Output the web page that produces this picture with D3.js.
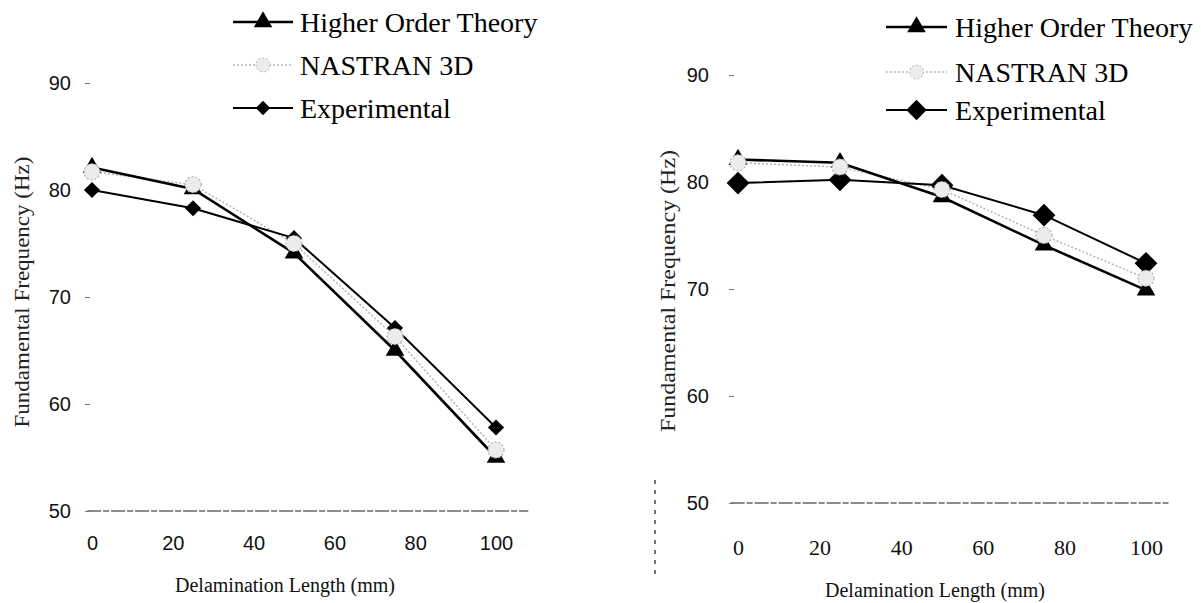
<!DOCTYPE html>
<html><head><meta charset="utf-8">
<script src="https://cdn.jsdelivr.net/npm/d3@7"></script>
<style>
body{margin:0;background:#fff;}
svg{display:block;}
.serif{font-family:"Liberation Serif","Times New Roman",serif;}
.sans{font-family:"Liberation Sans",Arial,sans-serif;}
</style></head>
<body>
<svg id="chart" width="1201" height="603"></svg>
<script>
// ---- data ----
const delaminationLength = [0, 25, 50, 75, 100];
const xTickValues = [0, 20, 40, 60, 80, 100];
const yTickValues = [50, 60, 70, 80, 90];
const seriesNames = ["Higher Order Theory", "NASTRAN 3D", "Experimental"];

const leftHigherOrder = [82.1, 80.1, 74.1, 65.0, 55.0];
const leftNastran     = [81.7, 80.5, 75.0, 66.3, 55.7];
const leftExperimental= [80.0, 78.3, 75.5, 67.1, 57.8];

const rightHigherOrder = [82.1, 81.8, 78.6, 74.1, 69.9];
const rightNastran     = [81.8, 81.4, 79.3, 75.0, 71.0];
const rightExperimental= [79.9, 80.2, 79.7, 76.9, 72.4];

const xTitle = "Delamination Length (mm)";
const yTitle = "Fundamental Frequency (Hz)";

// ---- layout ----
const svg = d3.select("#chart");

const panels = [
  { hot: leftHigherOrder, nas: leftNastran, exp: leftExperimental,
    xr: [92, 496], yr: [511, 83], axisX: 90, domainExt: [-1.2, 108],
    xTickClass: "sans", xTickSize: 20, xTickY: 543,
    yTickPad: 14, yTitleX: 21, yTitleY: 292, yTitleLen: 271,
    xTitleX: 285, xTitleY: 585,
    legX: 233, legX2: 293, legText: 300, legY: [22, 65, 108], diamond: 130 },
  { hot: rightHigherOrder, nas: rightNastran, exp: rightExperimental,
    xr: [738, 1146], yr: [503, 75], axisX: 734, domainExt: [-1.8, 105.5],
    xTickClass: "serif", xTickSize: 22, xTickY: 547,
    yTickPad: 20, yTitleX: 667, yTitleY: 291, yTitleLen: 282,
    xTitleX: 935, xTitleY: 590,
    legX: 886, legX2: 947, legText: 955, legY: [27, 72, 110], diamond: 260 }
];

const triangle = d3.symbol().type(d3.symbolTriangle).size(150);

panels.forEach(p => {
  const x = d3.scaleLinear().domain([0, 100]).range(p.xr);
  const y = d3.scaleLinear().domain([50, 90]).range(p.yr);
  const g = svg.append("g");

  // x axis (line at 50)
  const xa = g.append("g").attr("transform", `translate(0,${y(50)})`)
    .call(d3.axisBottom(x).tickValues(xTickValues).tickSize(0).tickPadding(0));
  xa.attr("font-family", null);
  xa.select(".domain").attr("d", `M${x(p.domainExt[0])},0H${x(p.domainExt[1])}`)
    .attr("stroke", "#666").attr("stroke-width", 1.6).attr("stroke-dasharray", "14,2,6,2");
  xa.selectAll(".tick text")
    .attr("class", p.xTickClass)
    .attr("y", p.xTickY - y(50)).attr("dy", "0.35em")
    .style("font-size", p.xTickSize + "px").attr("fill", "#111");

  // y axis
  const ya = g.append("g").attr("transform", `translate(${p.axisX},0)`)
    .call(d3.axisLeft(y).tickValues(yTickValues).tickSize(5).tickPadding(p.yTickPad));
  ya.attr("font-family", null);
  ya.select(".domain").remove();
  ya.selectAll(".tick line").attr("stroke", "#777").attr("stroke-width", 1);
  ya.selectAll(".tick text").attr("class", "sans")
    .style("font-size", "20px").attr("fill", "#111");

  // titles
  g.append("text").attr("class", "serif").attr("x", p.xTitleX).attr("y", p.xTitleY).attr("dy", "0.35em")
    .attr("text-anchor", "middle").style("font-size", "20px").attr("fill", "#111").text(xTitle);
  g.append("text").attr("class", "serif")
    .attr("transform", `translate(${p.yTitleX},${p.yTitleY}) rotate(-90)`)
    .attr("dy", "0.35em").attr("text-anchor", "middle").style("font-size", "22px")
    .attr("textLength", p.yTitleLen).attr("lengthAdjust", "spacingAndGlyphs")
    .attr("fill", "#222").text(yTitle);

  const line = d3.line().x((d, i) => x(delaminationLength[i])).y(d => y(d));

  // lines
  g.append("path").datum(p.nas).attr("d", line).attr("fill", "none")
    .attr("stroke", "#b5b5b5").attr("stroke-width", 1.5).attr("stroke-dasharray", "2,2");
  g.append("path").datum(p.exp).attr("d", line).attr("fill", "none")
    .attr("stroke", "#000").attr("stroke-width", 2);
  g.append("path").datum(p.hot).attr("d", line).attr("fill", "none")
    .attr("stroke", "#000").attr("stroke-width", 2.6);

  // markers
  g.selectAll(".tri").data(p.hot).enter().append("path")
    .attr("d", triangle)
    .attr("transform", (d, i) => `translate(${x(delaminationLength[i])},${y(d)})`)
    .attr("fill", "#000");
  g.selectAll(".dia").data(p.exp).enter().append("path")
    .attr("d", d3.symbol().type(d3.symbolSquare).size(p.diamond))
    .attr("transform", (d, i) => `translate(${x(delaminationLength[i])},${y(d)}) rotate(45)`)
    .attr("fill", "#000");
  g.selectAll(".nas").data(p.nas).enter().append("circle")
    .attr("cx", (d, i) => x(delaminationLength[i])).attr("cy", d => y(d)).attr("r", 8)
    .attr("fill", "#ececec").attr("stroke", "#b0b0b0").attr("stroke-width", 1.2)
    .attr("stroke-dasharray", "2,2");

  // legend
  const lg = g.append("g");
  seriesNames.forEach((name, k) => {
    const ly = p.legY[k];
    const mx = (p.legX + p.legX2) / 2;
    lg.append("line").attr("x1", p.legX).attr("x2", p.legX2).attr("y1", ly).attr("y2", ly)
      .attr("stroke", k === 1 ? "#b5b5b5" : "#000")
      .attr("stroke-width", k === 0 ? 2.6 : (k === 1 ? 1.5 : 2))
      .attr("stroke-dasharray", k === 1 ? "2,2" : null);
    if (k === 0) {
      lg.append("path").attr("d", triangle).attr("transform", `translate(${mx},${ly})`).attr("fill", "#000");
    } else if (k === 1) {
      lg.append("circle").attr("cx", mx).attr("cy", ly).attr("r", 7)
        .attr("fill", "#ececec").attr("stroke", "#b0b0b0").attr("stroke-dasharray", "2,2");
    } else {
      lg.append("path").attr("d", d3.symbol().type(d3.symbolSquare).size(p.diamond * 0.8))
        .attr("transform", `translate(${mx},${ly}) rotate(45)`).attr("fill", "#000");
    }
    lg.append("text").attr("class", "serif").attr("x", p.legText).attr("y", ly).attr("dy", "0.35em")
      .style("font-size", "28px").attr("fill", "#000").text(name);
  });
});

// scan artefact: dotted vertical mark on the right panel
svg.append("line").attr("x1", 655).attr("x2", 655).attr("y1", 480).attr("y2", 575)
  .attr("stroke", "#444").attr("stroke-width", 1.5).attr("stroke-dasharray", "4,6");
</script>
</body></html>
